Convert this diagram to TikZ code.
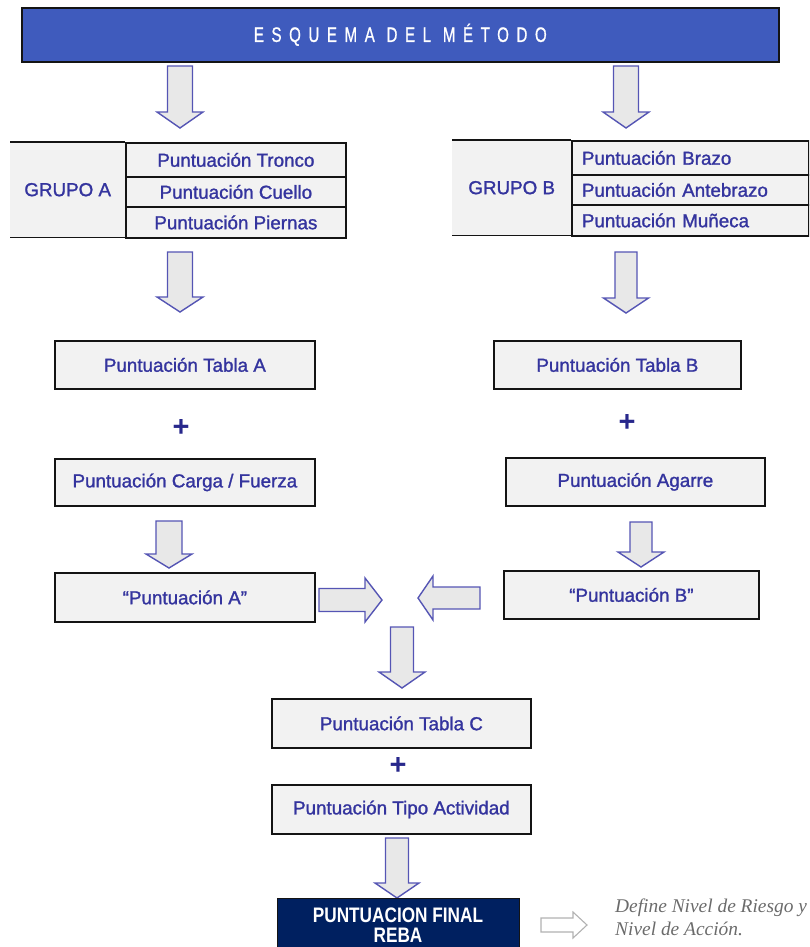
\documentclass[tikz,border=0pt]{standalone}
\usepackage{fontspec}
\setmainfont{Liberation Sans}
\newfontfamily\bodyf{Liberation Sans}[FakeBold=1.3]
\newfontfamily\titlef{Liberation Sans}[FakeStretch=0.72,LetterSpace=36,FakeBold=0.8]
\newfontfamily\finalf{Liberation Sans}[FakeStretch=0.82]
\newfontfamily\notef{Liberation Serif}
\definecolor{titleblue}{RGB}{63,91,189}
\definecolor{navy}{RGB}{0,32,96}
\definecolor{txtblue}{RGB}{52,52,158}
\definecolor{plusblue}{RGB}{40,40,140}
\definecolor{cellgray}{RGB}{242,242,242}
\definecolor{arrline}{RGB}{85,85,180}
\definecolor{arrfill}{RGB}{232,232,232}
\definecolor{bord}{RGB}{20,20,20}
\newcommand\downarr[6]{\draw[barrow] (#1-#5,#2) -- (#1+#5,#2) -- (#1+#5,#3) -- (#1+#6,#3) -- (#1,#4) -- (#1-#6,#3) -- (#1-#5,#3) -- cycle;}
\newcommand\sidearr[7][barrow]{\draw[#1] (#2,#5-#6) -- (#3,#5-#6) -- (#3,#5-#7) -- (#4,#5) -- (#3,#5+#7) -- (#3,#5+#6) -- (#2,#5+#6) -- cycle;}
\begin{document}
\begin{tikzpicture}[x=1pt,y=-1pt,
  box/.style={draw=bord,line width=1.8pt,fill=cellgray,inner sep=0pt,anchor=north west,
    font=\bodyf\fontsize{18.8}{22}\selectfont,text=txtblue},
  cell/.style={fill=cellgray,inner sep=0pt,anchor=north west,
    font=\bodyf\fontsize{18.8}{22}\selectfont,text=txtblue},
  tline/.style={draw=bord,line width=1.8pt},
  barrow/.style={draw=arrline,fill=arrfill,line width=1.4pt,line join=miter},
  grayarrow/.style={draw=black!30,fill=white,line width=1.1pt},
  plus/.style={font=\bfseries\fontsize{29}{30}\selectfont,text=plusblue,inner sep=0pt}]
\useasboundingbox (0,0) rectangle (809,947);
\begin{scope}
\clip (0,0) rectangle (809,947);
% title
\node[draw=bord,line width=1.6pt,fill=titleblue,anchor=north west,minimum width=757,minimum height=54,inner sep=0pt,
  font=\titlef\fontsize{21}{22}\selectfont,text=white] (title) at (21,7) {ESQUEMA DEL MÉTODO};
\downarr{180}{66}{112}{128}{12.5}{23}
\downarr{626}{66}{112}{128}{12.5}{23}
% group A
\node[cell,minimum width=115,minimum height=95] (gA) at (10,142) {GRUPO A};
\draw[tline] (gA.north west) -- (gA.north east);
\draw[tline] (gA.south west) -- (gA.south east);
\node[box,minimum width=220,minimum height=34] (a1) at (125,142) {Puntuación Tronco};
\node[box,minimum width=220,minimum height=30] (a2) at (125,176) {Puntuación Cuello};
\node[box,minimum width=220,minimum height=31] (a3) at (125,206) {Puntuación Piernas};
% group B
\node[cell,minimum width=119,minimum height=95] (gB) at (452,140) {GRUPO B};
\draw[tline] (gB.north west) -- (gB.north east);
\draw[tline] (gB.south west) -- (gB.south east);
\node[box,minimum width=237,minimum height=34,inner xsep=10pt,text width=217pt,align=left] (b1) at (571,140) {Puntuación Brazo};
\node[box,minimum width=237,minimum height=30,inner xsep=10pt,text width=217pt,align=left] (b2) at (571,174) {Puntuación Antebrazo};
\node[box,minimum width=237,minimum height=31,inner xsep=10pt,text width=217pt,align=left] (b3) at (571,204) {Puntuación Muñeca};
\downarr{180}{252}{297}{312}{12.5}{23}
\downarr{626}{252}{298}{313}{11}{22.5}
% left column
\node[box,minimum width=260,minimum height=48] (tA) at (54,340) {Puntuación Tabla A};
\node[plus] (pA) at (181,428) {+};
\node[box,minimum width=260,minimum height=47] (cA) at (54,458) {Puntuación Carga / Fuerza};
\downarr{169}{521}{554}{568}{13}{23}
\node[box,minimum width=260,minimum height=49] (sA) at (54,572) {“Puntuación A”};
% right column
\node[box,minimum width=247,minimum height=48] (tB) at (493,340) {Puntuación Tabla B};
\node[plus] (pB) at (627,423) {+};
\node[box,minimum width=259,minimum height=48] (gBx) at (505,457) {Puntuación Agarre};
\downarr{641}{522}{552}{567}{11}{23}
\node[box,minimum width=255,minimum height=48] (sB) at (503,570) {“Puntuación B”};
% side arrows
\sidearr{319}{365}{382}{600}{11.5}{22}
\sidearr{480}{433}{418}{598}{11}{22}
\downarr{402}{627}{672}{688}{11.5}{23}
% centre column
\node[box,minimum width=259,minimum height=49] (tC) at (271,698) {Puntuación Tabla C};
\node[plus] (pC) at (398,766) {+};
\node[box,minimum width=259,minimum height=49] (tAct) at (271,784) {Puntuación Tipo Actividad};
\downarr{397}{838}{883}{898}{11.5}{22}
\node[draw=bord,line width=1pt,fill=navy,anchor=north west,minimum width=242,minimum height=60,inner sep=0pt] (final) at (277,898) {};
\node[font=\finalf\bfseries\fontsize{21}{20}\selectfont,text=white,align=center,inner sep=0pt] (finalt) at (398,925) {PUNTUACION FINAL\\REBA};
\sidearr[grayarrow]{541}{573}{587}{925}{7}{13}
\node[anchor=west,align=left,inner sep=0pt,font=\notef\itshape\fontsize{19.4}{23}\selectfont,text=black!58] (note) at (615,917) {Define Nivel de Riesgo y\\Nivel de Acción.};
\end{scope}
\end{tikzpicture}
\end{document}
